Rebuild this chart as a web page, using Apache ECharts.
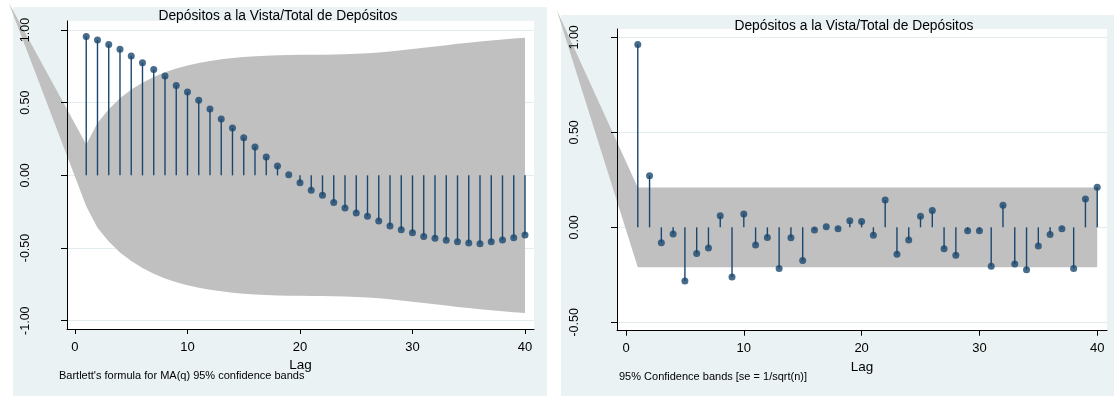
<!DOCTYPE html>
<html>
<head>
<meta charset="utf-8">
<script src="https://cdn.jsdelivr.net/npm/echarts@6/dist/echarts.min.js"></script>
<style>
  html, body { margin: 0; padding: 0; background: #ffffff; }
  #chart { width: 1114px; height: 396px; }
</style>
</head>
<body>
<div id="chart"></div>
<script>
// ---------- data ----------
const titleText = 'Depósitos a la Vista/Total de Depósitos';
const noteLeft = "Bartlett's formula for MA(q) 95% confidence bands";
const noteRight = '95% Confidence bands [se = 1/sqrt(n)]';
const xName = 'Lag';

const lags = [1,2,3,4,5,6,7,8,9,10,11,12,13,14,15,16,17,18,19,20,
              21,22,23,24,25,26,27,28,29,30,31,32,33,34,35,36,37,38,39,40];

// autocorrelations (left panel)
const acf = [0.956,0.931,0.901,0.867,0.821,0.775,0.729,0.683,0.619,0.573,
             0.516,0.456,0.387,0.325,0.259,0.195,0.126,0.064,0.005,-0.051,
             -0.103,-0.137,-0.186,-0.225,-0.259,-0.282,-0.314,-0.349,-0.374,-0.394,
             -0.420,-0.433,-0.447,-0.456,-0.466,-0.470,-0.456,-0.445,-0.429,-0.411];

// Bartlett band half-width per lag (left panel)
const bandLeft = [0.212,0.36,0.455,0.53,0.59,0.638,0.677,0.709,0.735,0.756,
                  0.773,0.787,0.798,0.807,0.814,0.819,0.823,0.826,0.828,0.829,
                  0.83,0.83,0.831,0.833,0.836,0.84,0.846,0.853,0.861,0.869,
                  0.878,0.887,0.896,0.905,0.913,0.921,0.928,0.935,0.941,0.947];
const bandLeftApex = [-5.9, 1.19];   // [lag, value] where the shaded band starts

// partial autocorrelations (right panel)
const pacf = [0.963,0.272,-0.081,-0.035,-0.283,-0.137,-0.109,0.061,-0.262,0.070,
              -0.093,-0.053,-0.216,-0.055,-0.174,-0.014,0.003,-0.007,0.035,0.031,
              -0.042,0.144,-0.142,-0.067,0.059,0.089,-0.112,-0.147,-0.018,-0.018,
              -0.205,0.116,-0.193,-0.223,-0.098,-0.037,-0.007,-0.216,0.149,0.211];

// constant band (right panel)
const bandRightLags = [1, 40];
const bandRightHalf = [0.21, 0.21];
const bandRightApex = [-5.88, 1.144];

const xTicks = [0, 10, 20, 30, 40];
const yTicksLeft = [-1, -0.5, 0, 0.5, 1];
const yTicksRight = [-0.5, 0, 0.5, 1];

// ---------- styles ----------
const NAVY = '#1a476f';
const BAND = '#c0c0c0';
const PANEL = '#eaf2f3';
const GRIDLINE = '#e3edef';
const FONT = '"Liberation Sans", Arial, sans-serif';

const chart = echarts.init(document.getElementById('chart'), null, { renderer: 'canvas' });

function bandPolygonLeft(params, api) {
  const pts = [api.coord(bandLeftApex)];
  for (let i = 0; i < lags.length; i++) pts.push(api.coord([lags[i], bandLeft[i]]));
  for (let i = lags.length - 1; i >= 0; i--) pts.push(api.coord([lags[i], -bandLeft[i]]));
  return { type: 'polygon', shape: { points: pts }, style: { fill: BAND }, silent: true };
}
function bandPolygonRight(params, api) {
  const pts = [api.coord(bandRightApex)];
  for (let i = 0; i < bandRightLags.length; i++) pts.push(api.coord([bandRightLags[i], bandRightHalf[i]]));
  for (let i = bandRightLags.length - 1; i >= 0; i--) pts.push(api.coord([bandRightLags[i], -bandRightHalf[i]]));
  return { type: 'polygon', shape: { points: pts }, style: { fill: BAND }, silent: true };
}
function stem(params, api) {
  const x = api.value(0), v = api.value(1);
  const p0 = api.coord([x, 0]), p1 = api.coord([x, v]);
  return { type: 'line', shape: { x1: p0[0], y1: p0[1], x2: p1[0], y2: p1[1] },
           style: { stroke: NAVY, lineWidth: 1.4 }, silent: true };
}

function xAxisCfg(gridIndex, min, max, gap) {
  return {
    type: 'value', gridIndex, min, max, z: 5,
    name: xName, nameLocation: 'middle', nameGap: gap,
    nameTextStyle: { fontFamily: FONT, fontSize: 13.5, color: '#000' },
    axisLine: { show: true, onZero: false, lineStyle: { color: '#000', width: 1 } },
    axisTick: { show: true, length: 5, customValues: xTicks, lineStyle: { color: '#000' } },
    axisLabel: { customValues: xTicks, margin: 11.5, fontFamily: FONT, fontSize: 13, color: '#000' },
    splitLine: { show: false }
  };
}
function yAxisCfg(gridIndex, min, max, ticks, margin) {
  return {
    type: 'value', gridIndex, min, max, z: 5,
    axisLine: { show: true, onZero: false, lineStyle: { color: '#000', width: 1 } },
    axisTick: { show: true, length: 6, customValues: ticks, lineStyle: { color: '#000' } },
    axisLabel: { customValues: ticks, rotate: 90, margin: margin, fontFamily: FONT, fontSize: 12.5, color: '#000',
                 formatter: v => Number(v).toFixed(2) },
    splitLine: { show: false }
  };
}

const option = {
  backgroundColor: '#ffffff',
  animation: false,
  graphic: [
    { type: 'rect', z: -100, shape: { x: 13, y: 7, width: 534, height: 389 }, style: { fill: PANEL }, silent: true },
    { type: 'rect', z: -100, shape: { x: 561, y: 15, width: 553, height: 381 }, style: { fill: PANEL }, silent: true },
    { type: 'text', z: 10, x: 278, y: 16.5, style: { text: titleText, font: '13.8px ' + FONT, fill: '#000', align: 'center', verticalAlign: 'middle' } },
    { type: 'text', z: 10, x: 854, y: 26, style: { text: titleText, font: '13.8px ' + FONT, fill: '#000', align: 'center', verticalAlign: 'middle' } },
    { type: 'text', z: 10, x: 59, y: 376, style: { text: noteLeft, font: '11px ' + FONT, fill: '#000', align: 'left', verticalAlign: 'middle' } },
    { type: 'text', z: 10, x: 619, y: 377, style: { text: noteRight, font: '11px ' + FONT, fill: '#000', align: 'left', verticalAlign: 'middle' } }
  ],
  grid: [
    { left: 67, top: 21, right: 580, bottom: 67, show: true, backgroundColor: '#ffffff', borderWidth: 0 },
    { left: 617, top: 29, right: 7, bottom: 65.3, show: true, backgroundColor: '#ffffff', borderWidth: 0 }
  ],
  xAxis: [ xAxisCfg(0, -0.71, 40.8, 19.5), xAxisCfg(1, -0.764, 40.83, 20.5) ],
  yAxis: [ yAxisCfg(0, -1.057, 1.062, yTicksLeft, 35), yAxisCfg(1, -0.544, 1.044, yTicksRight, 36) ],
  series: [
    // gridlines
    { type: 'line', xAxisIndex: 0, yAxisIndex: 0, data: [], z: 1,
      markLine: { z: 1, silent: true, symbol: 'none', label: { show: false },
                  lineStyle: { color: GRIDLINE, width: 1, type: 'solid' },
                  data: yTicksLeft.map(v => ({ yAxis: v })) } },
    { type: 'line', xAxisIndex: 1, yAxisIndex: 1, data: [], z: 1,
      markLine: { z: 1, silent: true, symbol: 'none', label: { show: false },
                  lineStyle: { color: GRIDLINE, width: 1, type: 'solid' },
                  data: yTicksRight.map(v => ({ yAxis: v })) } },
    // bands
    { type: 'custom', xAxisIndex: 0, yAxisIndex: 0, z: 2, clip: false, silent: true,
      renderItem: bandPolygonLeft, data: [[0, 0]] },
    { type: 'custom', xAxisIndex: 1, yAxisIndex: 1, z: 2, clip: false, silent: true,
      renderItem: bandPolygonRight, data: [[0, 0]] },
    // stems
    { type: 'custom', xAxisIndex: 0, yAxisIndex: 0, z: 6, silent: true,
      renderItem: stem, data: lags.map((l, i) => [l, acf[i]]) },
    { type: 'custom', xAxisIndex: 1, yAxisIndex: 1, z: 6, silent: true,
      renderItem: stem, data: lags.map((l, i) => [l, pacf[i]]) },
    // markers
    { type: 'scatter', xAxisIndex: 0, yAxisIndex: 0, z: 7, symbol: 'circle', symbolSize: 7,
      itemStyle: { color: NAVY }, silent: true, data: lags.map((l, i) => [l, acf[i]]) },
    { type: 'scatter', xAxisIndex: 1, yAxisIndex: 1, z: 7, symbol: 'circle', symbolSize: 7,
      itemStyle: { color: NAVY }, silent: true, data: lags.map((l, i) => [l, pacf[i]]) }
  ]
};
chart.setOption(option);
</script>
</body>
</html>
